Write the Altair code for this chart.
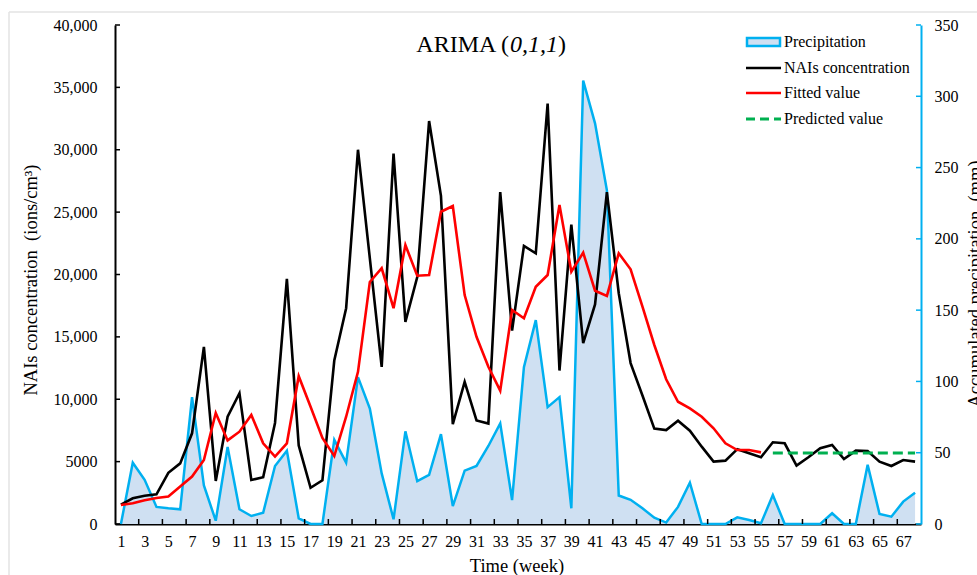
import altair as alt
import pandas as pd

# ---------------- data ----------------
weeks = list(range(1, 69))

nais = [1550, 2060, 2270, 2380, 4100, 4860, 7270, 14200, 3450, 8600,
        10480, 3530, 3750, 8100, 19650, 6300, 2900, 3500, 13100, 17300,
        30000, 21300, 12600, 29700, 16200, 19800, 32300, 26300, 8000, 11400,
        8300, 8050, 26600, 15500, 22300, 21700, 33700, 12300, 24000, 14500,
        17600, 26600, 18500, 12900, 10300, 7650, 7530, 8280, 7480, 6200,
        5000, 5080, 6000, 5670, 5350, 6550, 6470, 4680, 5350, 6070,
        6330, 5210, 5880, 5850, 5000, 4650, 5130, 5000]

fitted_weeks = list(range(1, 56))
fitted = [1520, 1660, 1900, 2080, 2200, 3000, 3800, 5130, 8900, 6700,
          7400, 8740, 6470, 5400, 6470, 11850, 9400, 6900, 5450, 8600,
          12200, 19400, 20500, 17300, 22360, 19900, 19960, 25030, 25490, 18350,
          15010, 12600, 10690, 17150, 16490, 19020, 19960, 25570, 20220, 21750,
          18700, 18280, 21700, 20420, 17420, 14350, 11600, 9800, 9270, 8600,
          7670, 6470, 5930, 5930, 5740]

predicted_weeks = [56, 57, 58, 59, 60, 61, 62, 63, 64, 65, 66, 67, 68]
predicted = [5700, 5700, 5700, 5700, 5700, 5700, 5700, 5700, 5700, 5700,
             5700, 5700, 5700]

precip = [0, 43, 31, 12, 11, 10.3, 89, 27, 2.3, 54,
          10.3, 5.6, 7.9, 40.7, 51.4, 4, 0, 0, 59, 43,
          103, 81, 35.5, 3.3, 65, 30, 34.4, 63, 12.6, 37.4,
          40.7, 54.7, 70.6, 16.8, 110, 143, 82, 89, 11, 311,
          281, 234, 20, 17, 11, 4.4, 1, 12, 29, 0,
          0, 0, 4.7, 2.8, 0.5, 20.3, 0, 0, 0, 0,
          7.5, 0, 0, 41.5, 7, 5.1, 15.7, 22]

x_label_weeks = [1, 3, 5, 7, 9, 11, 13, 15, 17, 19, 21, 23, 25, 27, 29, 31, 33,
                 35, 37, 39, 41, 43, 45, 47, 49, 51, 53, 55, 57, 59, 61, 63, 65, 67]
x_tick_bounds = [2.5, 4.5, 6.5, 8.5, 10.5, 12.5, 14.5, 16.5, 18.5, 20.5, 22.5,
                 24.5, 26.5, 28.5, 30.5, 32.5, 34.5, 36.5, 38.5, 40.5, 42.5,
                 44.5, 46.5, 48.5, 50.5, 52.5, 54.5, 56.5, 58.5, 60.5, 62.5,
                 64.5, 66.5]
left_ticks = [0, 5000, 10000, 15000, 20000, 25000, 30000, 35000, 40000]
right_ticks = [0, 50, 100, 150, 200, 250, 300, 350]

# ---------------- styling ----------------
W, H = 806, 499
FONT = "Liberation Serif"
BLUE = "#00B0F0"
FILL = "#CFE0F2"
RED = "#FF0000"
GREEN = "#00B050"

df_main = pd.DataFrame({"week": weeks, "nais": nais, "precip": precip})
df_fit = pd.DataFrame({"week": fitted_weeks, "fitted": fitted})
df_pred = pd.DataFrame({"week": predicted_weeks, "pred": predicted})
df_xt = pd.DataFrame({"week": x_tick_bounds})
df_lt = pd.DataFrame({"v": left_ticks})
df_rt = pd.DataFrame({"v": right_ticks})
one = alt.Data(values=[{}])

xscale = alt.Scale(domain=[0.5, 68.5], nice=False, zero=False)
x_axis = alt.Axis(values=x_label_weeks, format="d", ticks=False, tickSize=0,
                  grid=False, domainColor="black", domainWidth=2,
                  labelFont=FONT, labelFontSize=16, labelColor="black",
                  labelPadding=9, labelAngle=0, labelOverlap=False,
                  labelFlush=False, labelBound=False, title=None)
X = alt.X("week:Q", scale=xscale, axis=x_axis)

lscale = alt.Scale(domain=[0, 40000], nice=False, zero=True)
rscale = alt.Scale(domain=[0, 350], nice=False, zero=True)

left_axis = alt.Axis(orient="left", values=left_ticks, ticks=False, tickSize=0,
                     grid=False, domainColor="black", domainWidth=2,
                     labelFont=FONT, labelFontSize=16, labelColor="black",
                     labelPadding=18, title=None,
                     labelExpr="datum.value >= 10000 ? format(datum.value, ',') : format(datum.value, 'd')")
right_axis = alt.Axis(orient="right", values=right_ticks, ticks=False, tickSize=0,
                      grid=False, domainColor=BLUE, domainWidth=2,
                      labelFont=FONT, labelFontSize=16, labelColor="black",
                      labelPadding=13, title=None, format="d")


def YL(field):
    return alt.Y(field, scale=lscale, axis=left_axis)


def YR(field):
    return alt.Y(field, scale=rscale, axis=right_axis)


# ---------------- precipitation group (right axis) ----------------
area = alt.Chart(df_main).mark_area(color=FILL, opacity=1).encode(
    x=X, y=YR("precip:Q"))
pline = alt.Chart(df_main).mark_line(color=BLUE, strokeWidth=2.5).encode(
    x=X, y=YR("precip:Q"))
rticks = alt.Chart(df_rt).mark_rule(color=BLUE, strokeWidth=1.5).encode(
    y=YR("v:Q"), x=alt.value(W - 5), x2=alt.value(W))
precip_group = alt.layer(area, pline, rticks)

# ---------------- NAIs group (left axis) ----------------
black = alt.Chart(df_main).mark_line(color="black", strokeWidth=2.6).encode(
    x=X, y=YL("nais:Q"))
red = alt.Chart(df_fit).mark_line(color=RED, strokeWidth=2.6).encode(
    x=X, y=YL("fitted:Q"))
green = alt.Chart(df_pred).mark_line(color=GREEN, strokeWidth=3,
                                     strokeDash=[10, 5]).encode(
    x=X, y=YL("pred:Q"))
lticks = alt.Chart(df_lt).mark_rule(color="black", strokeWidth=1.5).encode(
    y=YL("v:Q"), x=alt.value(0), x2=alt.value(5))
nai_group = alt.layer(black, red, green, lticks)

# x-axis inward ticks
xticks = alt.Chart(df_xt).mark_rule(color="black", strokeWidth=1.5).encode(
    x=X, y=alt.value(H - 5), y2=alt.value(H))


def txt(s, x, y, size=16, align="left", angle=0, style="normal", baseline="alphabetic"):
    return alt.Chart(one).mark_text(font=FONT, fontSize=size, align=align,
                                    baseline=baseline, angle=angle,
                                    fontStyle=style, color="black").encode(
        x=alt.value(x), y=alt.value(y), text=alt.value(s))


# title with italic order
t1 = txt("ARIMA (", 394, 27, size=24, align="right")
t2 = txt("0,1,1", 395, 27, size=24, style="italic")
t3 = txt(")", 443, 27, size=24)

# axis titles
yl_title = txt("NAIs concentration\u00a0 (ions/cm\u00b3)", -78, 255, size=18.5,
               align="center", angle=270)
yr_title = txt("Accumulated precipitation\u00a0 (mm)", 866, 259, size=18.5,
               align="center", angle=270)
x_title = txt("Time (week)", 402, 547, size=18.5, align="center")

# legend
leg_rect = alt.Chart(one).mark_rect(fill=FILL, stroke=BLUE, strokeWidth=2.5).encode(
    x=alt.value(632), x2=alt.value(665), y=alt.value(13), y2=alt.value(21))
leg_black = alt.Chart(one).mark_rule(color="black", strokeWidth=2.6).encode(
    x=alt.value(631), x2=alt.value(666), y=alt.value(43))
leg_red = alt.Chart(one).mark_rule(color=RED, strokeWidth=2.6).encode(
    x=alt.value(631), x2=alt.value(666), y=alt.value(68))
leg_green = alt.Chart(one).mark_rule(color=GREEN, strokeWidth=3,
                                     strokeDash=[9, 5]).encode(
    x=alt.value(631), x2=alt.value(666), y=alt.value(94))
leg_t1 = txt("Precipitation", 669, 17, baseline="middle")
leg_t2 = txt("NAIs concentration", 669, 43, baseline="middle")
leg_t3 = txt("Fitted value", 669, 68, baseline="middle")
leg_t4 = txt("Predicted value", 669, 94, baseline="middle")

# faint figure frame
frame_top = alt.Chart(one).mark_rule(color="#E3E3E3", strokeWidth=1.5).encode(
    x=alt.value(-106), x2=alt.value(W + 56), y=alt.value(-13))
frame_left = alt.Chart(one).mark_rule(color="#E3E3E3", strokeWidth=1.5).encode(
    x=alt.value(-106), y=alt.value(-13), y2=alt.value(H + 51))

chart = alt.layer(
    precip_group, nai_group, xticks,
    t1, t2, t3, yl_title, yr_title, x_title,
    leg_rect, leg_black, leg_red, leg_green, leg_t1, leg_t2, leg_t3, leg_t4,
    frame_top, frame_left,
).resolve_scale(y="independent").properties(
    width=W, height=H,
    autosize=alt.AutoSizeParams(type="none"),
    padding={"left": 115, "top": 25, "right": 56, "bottom": 51},
    background="white",
).configure_view(stroke=None)

chart.save("out.html", embed_options={"renderer": "svg", "actions": False})
